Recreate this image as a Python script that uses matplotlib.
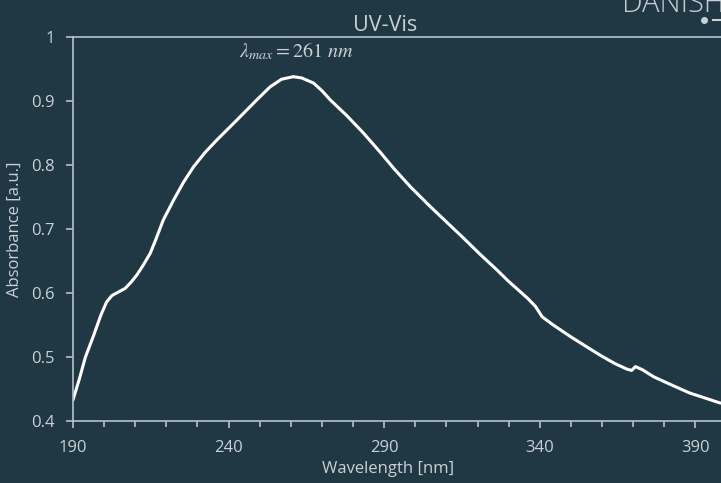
import matplotlib
matplotlib.use("Agg")
import matplotlib.pyplot as plt
from matplotlib.lines import Line2D

# values
wavelength = [190, 192, 194, 196.5, 199, 200.8, 202.5, 204, 206.7, 208.5, 210.5,
              212.5, 214.8, 216.4, 219, 222.3, 225.5, 228.7, 232.5, 236.2, 242.6,
              249.1, 253.3, 257, 260.8, 263.5, 267.3, 270, 272.6, 278, 283.3, 288.7,
              293, 298.4, 304.8, 310, 315, 320.9, 326, 330, 333.7, 336, 338.6,
              340.7, 344, 349.8, 355, 360, 364, 368, 369.5, 370.7, 373, 376.6,
              382, 388, 393, 398]
absorbance = [0.433, 0.465, 0.500, 0.532, 0.566, 0.586, 0.596, 0.600, 0.607, 0.616, 0.628,
              0.643, 0.662, 0.681, 0.714, 0.745, 0.773, 0.797, 0.820, 0.839, 0.870,
              0.902, 0.922, 0.934, 0.938, 0.936, 0.928, 0.916, 0.902, 0.877, 0.850, 0.820,
              0.795, 0.766, 0.735, 0.711, 0.688, 0.660, 0.637, 0.618, 0.602, 0.592, 0.579,
              0.563, 0.551, 0.532, 0.516, 0.501, 0.490, 0.481, 0.479, 0.485, 0.480, 0.469,
              0.457, 0.444, 0.436, 0.428]
x_ticks = [190, 240, 290, 340, 390]
y_ticks = [0.4, 0.5, 0.6, 0.7, 0.8, 0.9, 1.0]
y_tick_labels = ['0.4', '0.5', '0.6', '0.7', '0.8', '0.9', '1']
peak_label = r'$\lambda_{max}=261\ nm$'

bg = '#203744'
fg = '#c9d1d5'
spine_col = '#b8c3c8'

plt.rcParams['font.family'] = ['Open Sans', 'DejaVu Sans']
plt.rcParams['mathtext.fontset'] = 'stix'

fig = plt.figure(figsize=(7.21, 4.83), dpi=100, facecolor=bg)
ax = fig.add_axes([73 / 721, 1 - 421 / 483, 1 - 73 / 721, (421 - 37) / 483])
ax.set_facecolor(bg)

ax.plot(wavelength, absorbance, color='white', lw=2.2,
        solid_capstyle='round', solid_joinstyle='round')

ax.set_xlim(190, 398.2)
ax.set_ylim(0.4, 1.0)
ax.set_xticks(x_ticks)
ax.set_xticks(range(190, 400, 10), minor=True)
ax.set_yticks(y_ticks)
ax.set_yticklabels(y_tick_labels)

for side in ['left', 'bottom', 'top']:
    ax.spines[side].set_color(spine_col)
    ax.spines[side].set_linewidth(1.2)
ax.spines['right'].set_visible(False)

ax.tick_params(axis='both', which='major', colors=spine_col, labelcolor=fg,
               labelsize=12, length=5, width=1.2)
ax.tick_params(axis='x', which='minor', colors=spine_col, length=4, width=1.2)
ax.tick_params(axis='x', which='major', pad=9)
ax.tick_params(axis='y', which='major', pad=8)

ax.set_xlabel('Wavelength [nm]', color=fg, fontsize=12, labelpad=3, x=0.486)
ax.set_ylabel('Absorbance [a.u.]', color=fg, fontsize=12, labelpad=6)
ax.set_title('UV-Vis', color=fg, fontsize=15.5, pad=4, x=0.481)

ax.text(261.8, 0.977, peak_label, color=fg, fontsize=14.5, ha='center', va='center')

# logo, clipped by the top edge
fig.text(0.862, 0.975, 'DANISH', color=fg, fontsize=21, fontweight='light',
         ha='left', va='baseline')
fig.add_artist(Line2D([704 / 721], [1 - 20 / 483], marker='o', markersize=4,
                      color=fg, transform=fig.transFigure))
fig.add_artist(Line2D([713 / 721, 1.0], [1 - 20 / 483, 1 - 20 / 483], lw=1.5,
                      color=fg, transform=fig.transFigure))

fig.savefig('out.png', dpi=100, facecolor=bg)
